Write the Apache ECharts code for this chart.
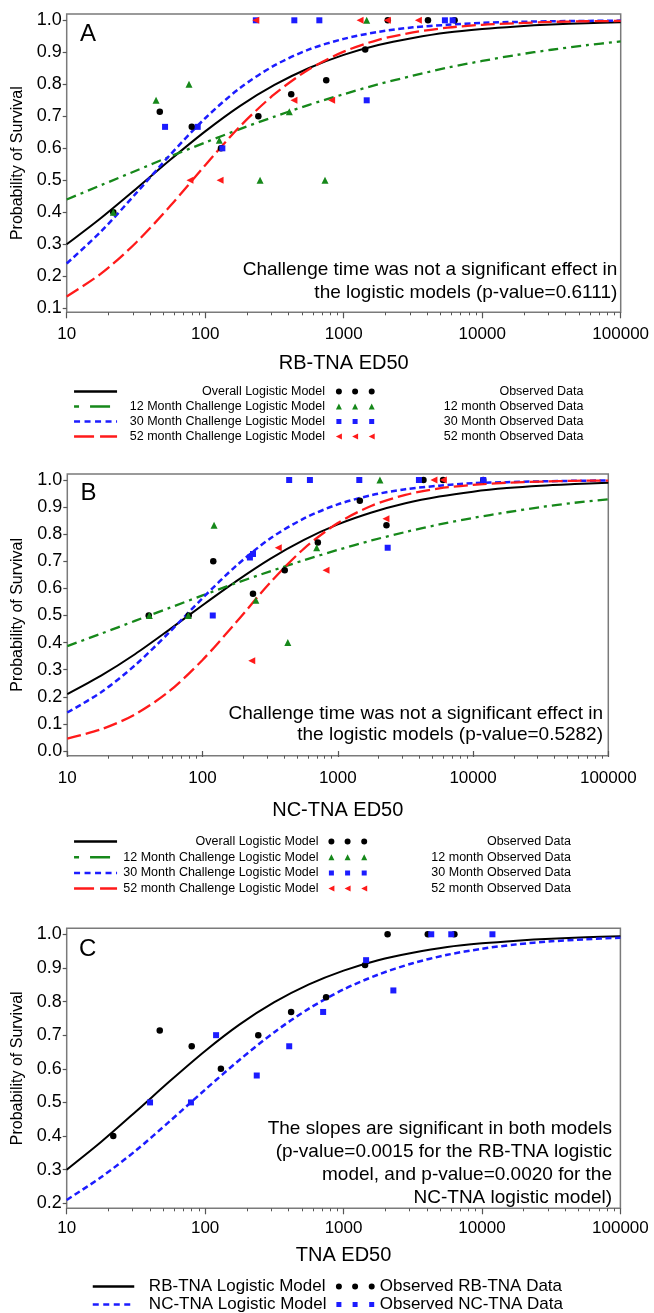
<!DOCTYPE html>
<html>
<head>
<meta charset="utf-8">
<script src="https://cdn.jsdelivr.net/npm/echarts@6/dist/echarts.min.js"></script>
<style>html,body{margin:0;padding:0;background:#fff}#c{width:654px;height:1313px}</style>
</head>
<body>
<div id="c"></div>
<script>
const FONT = '"Liberation Sans", Arial, Helvetica, sans-serif';

const curveX = [10, 17.78, 31.62, 56.23, 100, 177.8, 316.2, 562.3, 1000, 1778, 3162, 5623, 10000, 17783, 31623, 56234, 100000];
// Panel A (RB-TNA)
const overallA = [0.300,0.383,0.473,0.565,0.653,0.732,0.798,0.851,0.892,0.923,0.945,0.962,0.973,0.981,0.987,0.991,0.994];
const m12A     = [0.440,0.485,0.530,0.575,0.618,0.660,0.699,0.736,0.769,0.800,0.827,0.852,0.873,0.892,0.908,0.922,0.934];
const m30A     = [0.240,0.341,0.459,0.581,0.694,0.788,0.859,0.909,0.942,0.964,0.978,0.986,0.992,0.995,0.997,0.998,0.999];
const m52A     = [0.137,0.209,0.305,0.421,0.547,0.668,0.769,0.847,0.902,0.939,0.962,0.977,0.986,0.991,0.995,0.997,0.998];
// Panel B (NC-TNA)
const overallB = [0.210,0.278,0.357,0.446,0.538,0.627,0.709,0.779,0.836,0.880,0.914,0.939,0.957,0.970,0.979,0.985,0.990];
const m12B     = [0.387,0.433,0.480,0.527,0.574,0.620,0.663,0.704,0.742,0.777,0.808,0.836,0.860,0.881,0.900,0.916,0.929];
const m30B     = [0.142,0.217,0.316,0.436,0.564,0.684,0.784,0.858,0.910,0.944,0.966,0.979,0.988,0.992,0.995,0.997,0.998];
const m52B     = [0.046,0.080,0.135,0.219,0.336,0.476,0.621,0.747,0.841,0.905,0.945,0.969,0.982,0.990,0.994,0.997,0.998];

// ---- observed data ----
const rbObsX = [21.7, 47, 80, 130, 242, 418, 748, 1430, 2080, 4060, 6320];
const rbObsY = [0.40, 0.714, 0.667, 0.60, 0.70, 0.769, 0.8125, 0.909, 1.0, 1.0, 1.0];
const ncObsX = [40, 79, 120, 236, 405, 712, 1455, 2290, 4300, 6000, 11900];
const ncObsY = [0.50, 0.50, 0.70, 0.58, 0.667, 0.769, 0.923, 0.833, 1.0, 1.0, 1.0];

const a12X = [21.7, 44.2, 76.4, 126.5, 249, 405, 733, 1466];
const a12Y = [0.40, 0.75, 0.80, 0.625, 0.50, 0.714, 0.50, 1.0];
const a30X = [51.3, 88.3, 133, 232, 440, 667, 1466, 5380, 6120];
const a30Y = [0.667, 0.667, 0.60, 1.0, 1.0, 1.0, 0.75, 1.0, 1.0];
const a52X = [77.6, 128, 232, 437, 818, 1313, 2065, 3460];
const a52Y = [0.50, 0.50, 1.0, 0.75, 0.75, 1.0, 1.0, 1.0];

const b12X = [40.4, 78.5, 121.6, 248, 427, 698, 2050];
const b12Y = [0.50, 0.50, 0.833, 0.556, 0.40, 0.75, 1.0];
const b30X = [119, 224, 236, 437, 622, 1442, 2338, 3980, 11900];
const b30Y = [0.50, 0.714, 0.727, 1.0, 1.0, 1.0, 0.75, 1.0, 1.0];
const b52X = [231, 363, 818, 2270, 5140, 6030];
const b52Y = [0.333, 0.75, 0.667, 0.857, 1.0, 1.0];

// ---- ticks ----
const xMajorTicks = [10, 100, 1000, 10000, 100000];
const xMinorTicks = [20,30,40,50,60,70,80,90,200,300,400,500,600,700,800,900,2000,3000,4000,5000,6000,7000,8000,9000,20000,30000,40000,50000,60000,70000,80000,90000];
const yTicksA = [0.1,0.2,0.3,0.4,0.5,0.6,0.7,0.8,0.9,1.0];
const yTicksB = [0.0,0.1,0.2,0.3,0.4,0.5,0.6,0.7,0.8,0.9,1.0];
const yTicksC = [0.2,0.3,0.4,0.5,0.6,0.7,0.8,0.9,1.0];

// ---- names ----
const N_OV = 'Overall Logistic Model', N_12 = '12 Month Challenge Logistic Model',
      N_30 = '30 Month Challenge Logistic Model', N_52 = '52 month Challenge Logistic Model';
const O_OV = 'Observed Data', O_12 = '12 month Observed Data', O_30 = '30 Month Observed Data', O_52 = '52 month Observed Data';
const C_RB = 'RB-TNA Logistic Model', C_NC = 'NC-TNA Logistic Model', C_ORB = 'Observed RB-TNA Data', C_ONC = 'Observed NC-TNA Data';

const BLACK = '#000000', GREEN = '#16881a', BLUE = '#1c1cff', RED = '#ff1a1a';
const LS = {
  ov:  {color: BLACK, width: 2, type: 'solid'},
  m12: {color: GREEN, width: 2.3, type: [10, 5, 3, 5]},
  m30: {color: BLUE, width: 2.5, type: [6, 3.5]},
  m52: {color: RED, width: 2.3, type: [14, 5]}
};

function pairs(xs, ys) { return xs.map((x, i) => [x, ys[i]]); }
function lineS(name, ys, st, g) {
  return {type: 'line', name, xAxisIndex: g * 2, yAxisIndex: g, data: pairs(curveX, ys),
    symbol: 'none', showSymbol: false, smooth: 0.3, silent: true,
    lineStyle: {color: st.color, width: st.width, type: st.type}, itemStyle: {color: st.color}, z: 2};
}
function scatS(name, xs, ys, symbol, size, color, g, rot) {
  return {type: 'scatter', name, xAxisIndex: g * 2, yAxisIndex: g, data: pairs(xs, ys),
    symbol, symbolSize: size, symbolRotate: rot || 0, itemStyle: {color, opacity: 1}, z: 4, silent: true};
}

// grid geometry
const grids = [
  {left: 66.7, top: 14, width: 554, height: 298.3},
  {left: 67.3, top: 474, width: 541, height: 281.7},
  {left: 66.7, top: 928.3, width: 553.7, height: 280}
];
const yRanges = [[0.0875, 1.0197], [-0.0173, 1.0221], [0.1851, 1.0178]];
const yTickSets = [yTicksA, yTicksB, yTicksC];
const xNames = ['RB-TNA ED50', 'NC-TNA ED50', 'TNA ED50'];
const xNameGaps = [40.7, 44.3, 37.2];
const xLabelMargins = [14, 14, 11.5];

const xAxes = [], yAxes = [];
grids.forEach((g, i) => {
  xAxes.push({type: 'log', logBase: 10, gridIndex: i, min: 10, max: 100000, position: 'bottom',
    axisLine: {show: false}, splitLine: {show: false},
    axisTick: {show: true, length: 6, lineStyle: {color: '#555', width: 1.2}},
    axisLabel: {show: true, margin: xLabelMargins[i], fontSize: 17, fontFamily: FONT, color: '#000',
      formatter: v => String(Math.round(v))},
    name: xNames[i], nameLocation: 'middle', nameGap: xNameGaps[i],
    nameTextStyle: {fontSize: 20, fontFamily: FONT, color: '#000'}});
  xAxes.push({type: 'log', logBase: 10, gridIndex: i, min: 10, max: 100000, position: 'bottom',
    axisLine: {show: false}, splitLine: {show: false}, axisLabel: {show: false},
    axisTick: {show: true, length: 3, customValues: xMinorTicks, lineStyle: {color: '#555', width: 1}}});
  const t = yTickSets[i];
  yAxes.push({type: 'value', gridIndex: i, min: yRanges[i][0], max: yRanges[i][1],
    axisLine: {show: false}, splitLine: {show: false},
    axisTick: {show: true, length: 4, customValues: t, lineStyle: {color: '#555', width: 1.2}},
    axisLabel: {show: true, customValues: t, margin: 5, fontSize: 18, fontFamily: FONT, color: '#000',
      formatter: v => Number(v).toFixed(1)},
    name: 'Probability of Survival', nameLocation: 'middle', nameRotate: 90, nameGap: 41.4,
    nameTextStyle: {fontSize: 16, fontFamily: FONT, color: '#000'}});
});

const series = [
  lineS(N_OV, overallA, LS.ov, 0), lineS(N_12, m12A, LS.m12, 0), lineS(N_30, m30A, LS.m30, 0), lineS(N_52, m52A, LS.m52, 0),
  scatS(O_OV, rbObsX, rbObsY, 'circle', 6.5, BLACK, 0),
  scatS(O_12, a12X, a12Y, 'triangle', 7, GREEN, 0),
  scatS(O_30, a30X, a30Y, 'rect', 6, BLUE, 0),
  scatS(O_52, a52X, a52Y, 'triangle', 7, RED, 0, 90),

  lineS(N_OV, overallB, LS.ov, 1), lineS(N_12, m12B, LS.m12, 1), lineS(N_30, m30B, LS.m30, 1), lineS(N_52, m52B, LS.m52, 1),
  scatS(O_OV, ncObsX, ncObsY, 'circle', 6.5, BLACK, 1),
  scatS(O_12, b12X, b12Y, 'triangle', 7, GREEN, 1),
  scatS(O_30, b30X, b30Y, 'rect', 6, BLUE, 1),
  scatS(O_52, b52X, b52Y, 'triangle', 7, RED, 1, 90),

  lineS(C_RB, overallA, LS.ov, 2), lineS(C_NC, overallB, LS.m30, 2),
  scatS(C_ORB, rbObsX, rbObsY, 'circle', 6.5, BLACK, 2),
  scatS(C_ONC, ncObsX, ncObsY, 'rect', 6, BLUE, 2)
];

// legend icons (three markers)
const ICON_CIRC = 'path://M0,3A3,3 0 1,1 6,3A3,3 0 1,1 0,3Z M16.2,3A3,3 0 1,1 22.2,3A3,3 0 1,1 16.2,3Z M32.8,3A3,3 0 1,1 38.8,3A3,3 0 1,1 32.8,3Z';
const ICON_TRI = 'path://M3,0L6,6L0,6Z M19.2,0L22.2,6L16.2,6Z M35.8,0L38.8,6L32.8,6Z';
const ICON_SQ = 'path://M0.5,0.5H5.5V5.5H0.5Z M16.7,0.5H21.7V5.5H16.7Z M33.3,0.5H38.3V5.5H33.3Z M0,0 M38.8,6';
const ICON_LTRI = 'path://M0,3L6,0L6,6Z M16.2,3L22.2,0L22.2,6Z M32.8,3L38.8,0L38.8,6Z';

const LEG_LS = {
  ov: {color: BLACK, width: 2.5, type: 'solid'},
  m12: {color: GREEN, width: 2.5, type: [5, 11, 20, 11]},
  m30: {color: BLUE, width: 2.5, type: [6, 4.5]},
  m52: {color: RED, width: 2.5, type: [20, 6]}
};

function lineLegend(pos, width, gap, fs, names, styles, rich) {
  return Object.assign({orient: 'vertical', padding: 0, itemGap: gap, itemWidth: width, itemHeight: 6,
    itemStyle: {color: 'rgba(0,0,0,0)', borderWidth: 0, opacity: 0},
    data: names.map((n, i) => ({name: n, lineStyle: styles[i]})),
    formatter: n => '{t|' + n + '}',
    textStyle: {rich: {t: Object.assign({fontSize: fs, fontFamily: FONT, color: '#000'}, rich)}}}, pos);
}
function scatLegend(pos, gap, fs, names, icons, rich) {
  return Object.assign({orient: 'vertical', padding: 0, itemGap: gap, itemWidth: 38.8, itemHeight: 6,
    data: names.map((n, i) => ({name: n, icon: icons[i]})),
    formatter: n => '{t|' + n + '}',
    textStyle: {rich: {t: Object.assign({fontSize: fs, fontFamily: FONT, color: '#000'}, rich)}}}, pos);
}

const legends = [
  lineLegend({left: 72.8, top: 385}, 43, 2, 12.5, [N_OV, N_12, N_30, N_52], [LEG_LS.ov, LEG_LS.m12, LEG_LS.m30, LEG_LS.m52], {width: 203, align: 'right'}),
  scatLegend({left: 335.9, top: 385}, 2, 12.5, [O_OV, O_12, O_30, O_52], [ICON_CIRC, ICON_TRI, ICON_SQ, ICON_LTRI], {width: 203.8, align: 'right'}),
  lineLegend({left: 72.8, top: 835}, 43, 2.7, 12.5, [N_OV, N_12, N_30, N_52], [LEG_LS.ov, LEG_LS.m12, LEG_LS.m30, LEG_LS.m52], {width: 196.5, align: 'right'}),
  scatLegend({left: 328.4, top: 835}, 2.7, 12.5, [O_OV, O_12, O_30, O_52], [ICON_CIRC, ICON_TRI, ICON_SQ, ICON_LTRI], {width: 198.8, align: 'right'}),
  lineLegend({left: 91.5, bottom: 0}, 41.5, 1, 17, [C_RB, C_NC], [LEG_LS.ov, LEG_LS.m30], {padding: [0, 0, 0, 9.6]}),
  scatLegend({left: 335.9, bottom: 0}, 1, 17, [C_ORB, C_ONC], [ICON_CIRC, ICON_SQ], {padding: [0, 0, 0, 0]})
];

const annoStyle = (text, lh) => ({text, align: 'right', verticalAlign: 'middle', fontSize: 19, lineHeight: lh, fontFamily: FONT, fill: '#000'});
const graphic = [
  {type: 'text', x: 80, y: 34, style: {text: 'A', fontSize: 24, fontFamily: FONT, fill: '#000', verticalAlign: 'middle'}},
  {type: 'text', x: 80.5, y: 493, style: {text: 'B', fontSize: 24, fontFamily: FONT, fill: '#000', verticalAlign: 'middle'}},
  {type: 'text', x: 79, y: 949, style: {text: 'C', fontSize: 24, fontFamily: FONT, fill: '#000', verticalAlign: 'middle'}},
  {type: 'text', x: 617.3, y: 281.5, style: annoStyle('Challenge time was not a significant effect in\nthe logistic models (p-value=0.6111)', 22.7)},
  {type: 'text', x: 603, y: 724.2, style: annoStyle('Challenge time was not a significant effect in\nthe logistic models (p-value=0.5282)', 21.7)},
  {type: 'text', x: 612, y: 1163.3, style: annoStyle('The slopes are significant in both models\n(p-value=0.0015 for the RB-TNA logistic\nmodel, and p-value=0.0020 for the\nNC-TNA logistic model)', 22.9)}
];

const chart = echarts.init(document.getElementById('c'), null, {renderer: 'canvas'});
chart.setOption({
  animation: false,
  backgroundColor: '#ffffff',
  textStyle: {fontFamily: FONT},
  grid: grids.map(g => Object.assign({show: true, borderColor: '#7a7a7a', borderWidth: 1.5, backgroundColor: 'transparent', containLabel: false, outerBoundsMode: 'none'}, g)),
  xAxis: xAxes,
  yAxis: yAxes,
  legend: legends,
  series,
  graphic
});
</script>
</body>
</html>
